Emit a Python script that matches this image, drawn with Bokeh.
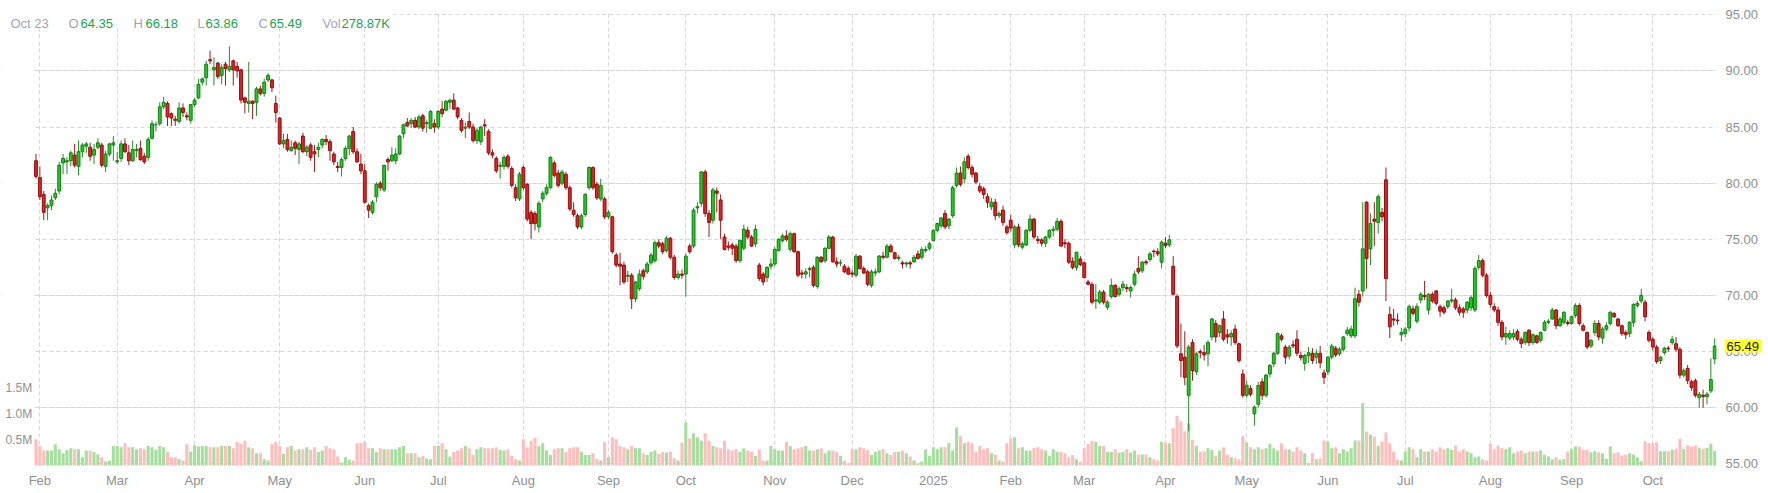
from bokeh.plotting import figure
from bokeh.models import (Range1d, FixedTicker, Grid, ColumnDataSource, Label, BoxAnnotation)
from bokeh.embed import file_html
from bokeh.resources import INLINE

# ---------------- data: (open, high, low, close) per trading day, grouped by month ----------------
ohlc_2024_01 = [(82.0, 82.6, 80.4, 80.6)]
ohlc_2024_02 = [
    (80.5, 81.5, 78.5, 78.8), (79.0, 79.3, 76.7, 77.4), (77.8, 78.2, 76.7, 78.0), (78.0, 78.9, 77.6, 78.5),
    (78.7, 79.5, 78.5, 79.1), (79.3, 81.9, 79.0, 81.6), (81.8, 82.6, 80.8, 82.2), (81.9, 82.3, 80.8, 82.0),
    (82.0, 82.9, 81.5, 82.7), (82.5, 83.5, 81.4, 81.6), (81.5, 83.8, 80.7, 82.8), (82.8, 83.6, 82.3, 83.4),
    (83.3, 83.7, 82.7, 83.5), (83.2, 83.6, 82.0, 82.4), (82.5, 83.5, 81.7, 83.0), (83.2, 84.0, 83.0, 83.6),
    (83.4, 83.6, 81.4, 81.6), (81.5, 82.9, 81.0, 82.6), (82.6, 83.6, 82.4, 83.5), (83.4, 84.2, 82.0, 83.6)]
ohlc_2024_03 = [
    (81.9, 82.8, 81.7, 82.0), (82.2, 83.8, 81.9, 83.5), (83.5, 84.0, 82.7, 82.8), (82.7, 83.4, 81.6, 82.0),
    (82.0, 83.8, 81.9, 83.0), (82.9, 83.5, 82.3, 83.0), (83.1, 83.8, 82.0, 82.1), (82.4, 82.7, 81.7, 81.9),
    (82.3, 84.1, 82.0, 83.9), (84.0, 85.6, 83.9, 85.3), (85.2, 85.5, 84.6, 85.2), (85.3, 87.2, 85.1, 86.8),
    (86.8, 87.7, 86.6, 87.2), (87.1, 87.3, 85.1, 85.9), (86.2, 86.3, 85.1, 85.8), (85.7, 86.0, 85.1, 85.6),
    (85.5, 87.2, 85.3, 86.7), (86.7, 87.1, 85.9, 86.3), (86.0, 86.3, 85.6, 85.9), (85.6, 87.0, 85.3, 87.0)]
ohlc_2024_04 = [
    (87.0, 87.6, 86.8, 87.4), (87.6, 89.3, 87.5, 88.8), (89.0, 89.4, 88.7, 89.3), (89.4, 90.9, 88.7, 90.6),
    (91.0, 91.8, 90.6, 90.9), (90.1, 91.2, 88.7, 90.3), (90.7, 90.8, 89.3, 89.5), (89.6, 90.6, 88.8, 90.3),
    (90.6, 90.8, 88.7, 90.2), (90.1, 92.2, 89.9, 90.4), (90.9, 91.0, 88.7, 90.1), (90.4, 90.8, 89.4, 90.0),
    (90.1, 90.2, 87.1, 87.4), (87.6, 87.7, 86.2, 87.2), (87.1, 90.8, 86.3, 87.3), (87.3, 87.4, 85.7, 87.1),
    (87.2, 88.6, 86.0, 88.4), (88.4, 88.7, 87.8, 88.0), (88.0, 89.3, 87.7, 89.0), (89.2, 89.8, 89.0, 89.6),
    (89.2, 89.3, 88.1, 88.5), (87.1, 87.8, 85.4, 86.3)]
ohlc_2024_05 = [
    (85.8, 85.9, 83.4, 83.5), (83.5, 84.4, 83.1, 83.8), (83.9, 84.4, 82.8, 83.0), (82.9, 83.8, 82.8, 83.2),
    (83.6, 83.8, 82.5, 83.1), (83.0, 83.7, 81.7, 83.5), (84.2, 84.5, 82.7, 82.8), (82.8, 83.4, 82.4, 83.2),
    (83.4, 83.6, 82.0, 82.3), (82.8, 83.4, 81.0, 82.6), (83.0, 83.6, 82.3, 83.2), (83.4, 84.0, 83.1, 83.9),
    (83.9, 84.3, 83.4, 83.7), (83.7, 83.9, 82.0, 82.9), (82.6, 82.8, 81.6, 81.9), (81.5, 81.9, 81.0, 81.4),
    (81.4, 82.3, 80.6, 82.1), (82.2, 83.3, 82.0, 83.1), (83.1, 84.3, 82.5, 84.2), (84.6, 85.0, 82.6, 82.8),
    (82.8, 83.1, 81.8, 81.9), (81.7, 82.6, 80.8, 81.1)]
ohlc_2024_06 = [
    (81.1, 81.7, 78.2, 78.3), (78.0, 78.2, 76.9, 77.6), (77.4, 78.5, 77.2, 78.3), (78.8, 80.1, 78.3, 79.9),
    (80.0, 80.2, 79.3, 79.6), (79.4, 81.6, 79.2, 81.6), (82.1, 82.3, 81.1, 81.9), (82.0, 83.2, 81.9, 82.5),
    (82.0, 83.1, 81.7, 82.6), (82.6, 84.3, 82.5, 84.2), (84.4, 85.3, 84.0, 85.2), (85.4, 85.8, 85.0, 85.1),
    (85.3, 85.8, 84.9, 85.6), (85.6, 85.9, 84.9, 85.0), (85.0, 86.1, 84.8, 85.9), (86.0, 86.2, 84.6, 84.9),
    (85.3, 85.6, 84.5, 85.4), (84.9, 86.5, 84.8, 86.4), (85.3, 85.7, 84.5, 85.0)]
ohlc_2024_07 = [
    (85.0, 86.5, 84.8, 86.4), (86.6, 87.3, 85.9, 86.2), (86.5, 87.4, 86.4, 87.3), (87.2, 87.5, 86.6, 87.4),
    (87.4, 88.0, 86.5, 86.6), (86.7, 86.8, 85.7, 85.9), (85.6, 85.8, 84.5, 84.7), (84.9, 85.4, 84.0, 85.0),
    (85.5, 86.3, 84.8, 85.0), (85.0, 85.3, 83.6, 83.8), (83.8, 84.9, 83.5, 84.7), (83.7, 85.1, 83.4, 85.0),
    (85.2, 85.7, 84.2, 85.1), (84.6, 84.8, 82.5, 82.7), (82.7, 83.0, 82.2, 82.5), (82.2, 82.4, 80.9, 81.1),
    (81.5, 81.9, 80.4, 81.6), (81.5, 82.5, 81.2, 82.3), (82.4, 82.6, 81.3, 81.5), (81.3, 81.5, 79.6, 79.8),
    (79.6, 79.9, 78.4, 78.7), (78.6, 81.0, 78.4, 80.8)]
ohlc_2024_08 = [
    (81.4, 81.6, 79.4, 79.6), (79.9, 80.0, 76.6, 76.8), (77.4, 77.6, 75.0, 76.4), (77.3, 77.5, 75.8, 76.4),
    (76.1, 78.4, 75.6, 78.2), (78.6, 79.3, 78.3, 79.1), (79.1, 79.9, 78.9, 79.6), (79.6, 82.4, 79.5, 82.3),
    (81.8, 82.0, 80.5, 80.7), (80.9, 81.2, 79.6, 79.8), (80.0, 81.2, 79.8, 81.0), (80.8, 81.0, 79.4, 79.6),
    (79.6, 79.8, 77.5, 77.7), (77.6, 78.3, 77.0, 77.2), (77.1, 77.3, 75.9, 76.1), (76.1, 77.3, 75.9, 77.1),
    (77.2, 79.1, 77.0, 79.0), (79.6, 81.5, 79.4, 81.4), (81.4, 81.5, 79.4, 79.6), (79.9, 80.1, 78.5, 78.7),
    (78.6, 80.4, 78.4, 79.8), (78.6, 78.8, 76.8, 77.0)]
ohlc_2024_09 = [
    (77.0, 77.6, 76.8, 77.4), (77.0, 77.1, 73.7, 73.9), (73.6, 73.8, 72.5, 72.7), (72.8, 73.8, 70.9, 72.6),
    (72.7, 73.0, 71.0, 71.2), (71.7, 72.2, 71.2, 71.8), (71.8, 72.0, 68.8, 69.7), (69.7, 71.3, 69.4, 71.2),
    (70.6, 72.3, 70.4, 71.9), (72.2, 72.4, 71.4, 71.7), (72.1, 73.0, 71.9, 72.8), (72.9, 73.8, 72.7, 73.6),
    (73.1, 74.9, 72.9, 74.7), (74.7, 75.0, 74.2, 74.4), (74.6, 74.8, 73.7, 73.9), (74.0, 75.3, 73.8, 75.1),
    (75.1, 75.2, 73.2, 73.4), (73.4, 73.6, 71.4, 71.6), (71.6, 72.2, 71.4, 71.9), (71.9, 72.3, 71.5, 71.8)]
ohlc_2024_10 = [
    (71.9, 73.7, 69.9, 73.5), (74.4, 74.6, 73.7, 73.9), (74.4, 77.8, 74.2, 77.6), (77.8, 78.3, 77.3, 77.9),
    (78.2, 81.1, 77.9, 81.0), (81.0, 81.2, 77.0, 77.3), (77.3, 77.6, 75.2, 76.5), (76.7, 79.6, 76.4, 79.4),
    (79.3, 79.6, 77.4, 79.1), (78.5, 79.0, 75.0, 76.7), (75.2, 75.5, 74.0, 74.1), (74.4, 74.8, 74.0, 74.3),
    (74.5, 74.7, 73.6, 74.2), (74.4, 74.6, 72.9, 73.1), (73.1, 75.0, 72.9, 74.9), (74.2, 76.3, 74.0, 75.9),
    (75.8, 76.1, 75.0, 75.2), (75.2, 75.4, 74.3, 74.4), (74.6, 76.3, 74.3, 75.9), (72.7, 72.9, 71.3, 71.5),
    (71.9, 72.1, 70.9, 71.2), (71.6, 72.6, 71.2, 72.5), (72.6, 73.3, 72.3, 72.8)]
ohlc_2024_11 = [
    (72.8, 74.3, 72.6, 74.1), (74.0, 75.1, 73.9, 75.0), (74.9, 75.5, 74.7, 75.3), (75.3, 75.8, 74.8, 75.0),
    (74.1, 75.7, 73.9, 75.5), (75.5, 75.6, 73.8, 73.9), (73.9, 74.0, 71.6, 71.8), (72.0, 72.3, 71.5, 71.9),
    (71.9, 72.4, 71.5, 72.1), (72.3, 72.6, 71.6, 72.4), (72.5, 72.7, 70.7, 70.9), (70.8, 73.5, 70.6, 73.4),
    (73.4, 73.5, 72.9, 73.0), (73.1, 74.3, 72.9, 74.2), (74.2, 75.4, 74.1, 75.2), (75.2, 75.3, 72.9, 73.0),
    (73.0, 73.4, 72.5, 72.8), (72.9, 73.2, 72.6, 72.9), (72.6, 72.8, 72.0, 72.1), (72.4, 72.6, 71.8, 71.9)]
ohlc_2024_12 = [
    (72.0, 72.3, 71.6, 71.9), (71.8, 73.7, 71.6, 73.5), (73.5, 73.6, 72.3, 72.4), (72.4, 72.6, 71.9, 72.0),
    (72.1, 72.3, 70.8, 71.0), (70.9, 72.3, 70.7, 72.1), (72.0, 72.4, 71.7, 72.1), (72.1, 73.6, 72.0, 73.5),
    (73.5, 73.9, 73.2, 73.4), (73.4, 74.6, 73.3, 74.4), (74.4, 74.6, 73.8, 73.9), (73.8, 73.9, 73.2, 73.3),
    (73.3, 73.6, 73.1, 73.4), (72.9, 73.1, 72.4, 72.8), (72.8, 73.0, 72.5, 72.9), (72.9, 73.1, 72.4, 72.8),
    (73.0, 73.6, 72.9, 73.4), (73.7, 74.0, 73.2, 73.3), (73.4, 74.3, 73.2, 74.1), (74.0, 74.4, 73.8, 74.1),
    (74.2, 74.8, 74.0, 74.6)]
ohlc_2025_01 = [
    (74.9, 75.9, 74.8, 75.8), (75.8, 76.5, 75.6, 76.4), (76.2, 77.0, 76.0, 76.9), (77.3, 77.6, 75.9, 76.1),
    (76.2, 76.9, 75.9, 76.8), (77.1, 79.8, 76.9, 79.6), (79.8, 81.4, 79.6, 80.9), (80.9, 81.5, 79.7, 79.9),
    (80.4, 82.3, 80.0, 81.9), (82.4, 82.6, 81.2, 81.4), (81.4, 81.6, 80.5, 80.8), (80.9, 81.0, 79.9, 80.1),
    (79.7, 80.0, 79.1, 79.3), (79.5, 79.7, 78.6, 79.0), (78.8, 79.1, 77.8, 78.3), (77.9, 78.7, 77.6, 78.3),
    (78.3, 78.6, 76.7, 77.1), (77.1, 77.5, 76.9, 77.3), (77.6, 78.0, 76.2, 76.5), (76.1, 76.3, 75.4, 75.6)]
ohlc_2025_02 = [
    (76.7, 77.2, 75.7, 76.0), (74.5, 76.3, 74.2, 76.1), (76.1, 76.4, 74.3, 74.5), (74.3, 74.8, 74.1, 74.6),
    (74.5, 75.9, 74.4, 75.8), (75.8, 77.2, 75.6, 76.8), (76.8, 76.9, 75.0, 75.2), (75.0, 75.3, 74.6, 74.9),
    (74.95, 75.1, 74.4, 74.65), (74.65, 75.3, 74.3, 75.2), (75.2, 75.9, 75.0, 75.8), (75.8, 76.2, 75.3, 75.9),
    (75.9, 76.9, 75.7, 76.6), (76.6, 76.8, 74.3, 74.4), (74.7, 75.0, 74.2, 74.6), (74.65, 74.8, 72.8, 72.96),
    (73.05, 73.4, 72.3, 72.5), (72.5, 73.9, 72.2, 73.85), (73.25, 73.5, 72.6, 72.75)]
ohlc_2025_03 = [
    (72.9, 73.0, 71.5, 71.6), (71.2, 71.4, 70.9, 71.0), (70.97, 71.2, 69.2, 69.4), (69.5, 71.0, 68.8, 69.6),
    (69.4, 70.5, 69.2, 70.3), (70.3, 70.5, 69.2, 69.4), (68.95, 69.6, 68.7, 69.4), (69.9, 71.5, 69.7, 70.9),
    (70.9, 71.0, 69.8, 69.9), (70.1, 70.8, 69.9, 70.6), (70.7, 71.3, 70.4, 71.0), (70.7, 71.0, 70.3, 70.6),
    (70.4, 70.9, 69.8, 70.7), (71.0, 72.2, 70.8, 71.9), (72.4, 73.5, 71.9, 72.1), (72.2, 73.1, 72.0, 72.96),
    (73.0, 73.2, 72.7, 72.9), (73.2, 73.9, 73.0, 73.7), (73.95, 74.1, 73.4, 73.9), (73.9, 74.2, 73.5, 73.7),
    (72.96, 74.9, 72.4, 74.75)]
ohlc_2025_04 = [
    (74.65, 75.2, 74.2, 74.45), (74.5, 75.4, 74.3, 74.95), (72.6, 73.5, 70.0, 70.1), (69.9, 70.1, 65.3, 65.5),
    (64.8, 67.5, 62.7, 64.2), (64.5, 66.8, 62.0, 62.7), (61.1, 65.6, 57.9, 65.4), (65.8, 66.1, 62.4, 63.3),
    (63.2, 65.0, 62.9, 64.8), (65.0, 65.2, 64.4, 64.9), (64.9, 65.6, 64.2, 64.7), (64.8, 66.0, 63.7, 65.8),
    (66.3, 68.0, 66.0, 67.9), (67.5, 67.8, 65.8, 66.3), (66.7, 67.4, 66.3, 67.3), (67.9, 68.6, 65.9, 66.1),
    (66.5, 67.0, 65.7, 66.3), (66.3, 66.9, 65.5, 66.6), (67.0, 67.4, 65.6, 65.8), (65.7, 65.8, 64.0, 64.2),
    (63.0, 63.4, 60.9, 61.1)]
ohlc_2025_05 = [
    (61.1, 62.4, 60.9, 62.0), (61.7, 62.0, 61.0, 61.2), (59.45, 60.2, 58.4, 60.05), (60.3, 62.3, 60.0, 61.975),
    (62.3, 62.6, 60.7, 61.1), (61.1, 63.0, 60.9, 62.9), (63.0, 63.9, 62.7, 63.75), (63.9, 65.0, 63.6, 64.85),
    (64.85, 66.7, 64.7, 66.6), (66.4, 66.6, 65.9, 66.1), (65.4, 65.6, 63.9, 64.5), (64.6, 65.6, 64.3, 65.4),
    (65.6, 66.0, 65.3, 65.5), (66.1, 66.9, 64.6, 64.85), (64.65, 65.0, 64.2, 64.45), (63.95, 64.8, 63.3, 64.65),
    (64.65, 65.4, 64.0, 64.9), (64.85, 65.3, 63.9, 64.2), (64.5, 65.2, 63.9, 64.85), (64.85, 65.5, 63.5, 64.0),
    (63.1, 63.4, 62.1, 62.7)]
ohlc_2025_06 = [
    (63.2, 64.6, 62.9, 64.5), (64.5, 65.7, 64.3, 65.5), (65.3, 65.5, 64.5, 64.7), (64.8, 65.4, 64.6, 65.2),
    (65.2, 66.4, 65.0, 66.3), (66.6, 67.2, 66.4, 66.9), (66.4, 67.3, 66.2, 67.0), (66.4, 70.7, 66.2, 69.7),
    (70.1, 70.5, 69.0, 69.4), (70.4, 78.3, 69.9, 74.15), (78.3, 78.4, 70.6, 73.3), (74.15, 77.3, 72.7, 76.4),
    (76.8, 78.3, 74.4, 76.6), (76.5, 79.0, 75.5, 78.8), (77.4, 77.8, 76.6, 77.0), (80.3, 81.4, 69.5, 71.5),
    (68.3, 69.0, 66.2, 67.2), (67.9, 68.8, 67.3, 67.8), (67.8, 68.4, 67.4, 67.75), (66.5, 67.1, 65.9, 66.7)]
ohlc_2025_07 = [
    (66.6, 67.2, 66.3, 67.0), (67.1, 69.2, 66.8, 69.0), (68.8, 69.1, 68.2, 68.4), (67.7, 69.3, 67.5, 69.0),
    (69.6, 70.3, 69.3, 70.1), (70.0, 71.3, 69.6, 69.9), (68.7, 70.2, 68.3, 70.1), (70.1, 70.3, 69.3, 69.5),
    (70.4, 70.5, 69.1, 69.3), (69.0, 69.2, 68.1, 68.6), (68.9, 69.1, 68.3, 68.5), (69.0, 69.6, 68.8, 69.5),
    (69.5, 70.6, 69.3, 69.6), (69.6, 69.8, 68.7, 68.9), (68.9, 69.2, 68.2, 68.5), (68.8, 69.0, 68.0, 68.5),
    (68.7, 69.5, 68.4, 69.4), (68.9, 70.0, 68.6, 69.8), (68.7, 72.6, 68.5, 72.4), (72.5, 73.6, 72.3, 73.1),
    (73.1, 73.3, 71.6, 71.8), (71.8, 72.0, 69.8, 70.0)]
ohlc_2025_08 = [
    (70.0, 70.3, 68.9, 69.2), (69.0, 69.3, 68.5, 68.7), (68.7, 69.0, 67.3, 67.6), (67.6, 67.8, 66.0, 66.3),
    (66.3, 67.2, 65.6, 66.6), (66.2, 66.9, 66.0, 66.6), (66.3, 67.0, 66.0, 66.6), (66.8, 67.0, 65.9, 66.1),
    (66.1, 66.3, 65.3, 65.7), (65.8, 66.8, 65.6, 66.7), (66.9, 67.0, 65.5, 65.8), (65.8, 66.6, 65.6, 66.5),
    (66.4, 66.5, 65.7, 65.8), (66.0, 66.8, 65.8, 66.7), (66.9, 67.8, 66.8, 67.6), (67.6, 67.9, 67.4, 67.7),
    (67.9, 68.9, 67.8, 68.7), (68.7, 68.8, 67.0, 67.3), (67.3, 68.1, 67.2, 67.9), (67.6, 68.6, 67.4, 68.5),
    (67.6, 67.8, 67.3, 67.5)]
ohlc_2025_09 = [
    (67.5, 68.2, 67.4, 68.1), (68.2, 69.3, 68.0, 69.1), (69.1, 69.3, 67.3, 67.5), (67.3, 67.5, 66.8, 66.9),
    (66.7, 66.8, 65.2, 65.4), (65.5, 66.1, 65.3, 66.0), (66.7, 67.8, 66.4, 67.5), (67.5, 67.8, 66.0, 66.3),
    (66.2, 67.2, 65.7, 67.0), (67.0, 67.6, 66.8, 67.3), (67.5, 68.6, 67.3, 68.5), (68.4, 68.5, 68.0, 68.1),
    (67.9, 68.0, 67.2, 67.3), (67.3, 67.4, 66.4, 66.6), (66.7, 66.9, 66.1, 66.5), (66.6, 67.7, 66.3, 67.6),
    (67.6, 69.3, 67.2, 69.2), (69.1, 69.5, 68.9, 69.3), (69.5, 70.6, 69.3, 70.0), (69.4, 69.6, 67.7, 68.1),
    (66.7, 66.9, 65.8, 66.0)]
ohlc_2025_10 = [
    (66.1, 66.3, 65.1, 65.4), (65.4, 65.6, 63.9, 64.1), (64.2, 64.6, 63.9, 64.5), (64.9, 65.4, 64.7, 65.3),
    (65.3, 65.5, 65.0, 65.25), (65.8, 66.4, 65.6, 66.1), (65.7, 66.3, 65.0, 65.2), (65.2, 65.4, 62.6, 62.9),
    (62.9, 63.5, 62.7, 63.3), (63.5, 63.8, 62.1, 62.4), (62.3, 62.5, 61.5, 61.8), (62.4, 62.6, 60.9, 61.1),
    (60.9, 61.4, 60.0, 61.2), (61.1, 61.6, 60.0, 61.0), (61.0, 61.4, 60.3, 61.2), (61.5, 64.4, 61.3, 62.5),
    (64.35, 66.18, 63.86, 65.49)]

# ---------------- volume per trading day, thousands of shares ----------------
vol_2024_01 = [503]
vol_2024_02 = [376, 287, 287, 287, 408, 312, 236, 299, 331, 312, 312, 159, 287, 287, 261, 210, 159, 76, 96, 376]
vol_2024_03 = [376, 350, 427, 350, 350, 312, 331, 312, 376, 350, 299, 376, 350, 261, 159, 159, 121, 96, 408, 268]
vol_2024_04 = [389, 363, 376, 376, 350, 350, 350, 376, 376, 376, 331, 452, 414, 478, 350, 331, 236, 236, 121, 96, 414, 452]
vol_2024_05 = [376, 223, 350, 376, 287, 312, 312, 350, 299, 350, 261, 287, 376, 331, 312, 172, 57, 159, 108, 96, 427, 439]
vol_2024_06 = [452, 331, 331, 261, 331, 312, 312, 312, 312, 350, 376, 236, 236, 236, 159, 185, 134, 121, 376]
vol_2024_07 = [376, 427, 312, 172, 261, 287, 331, 376, 331, 204, 312, 350, 331, 331, 331, 350, 299, 287, 312, 185, 121, 96]
vol_2024_08 = [503, 350, 478, 529, 376, 427, 287, 204, 312, 331, 331, 261, 331, 350, 350, 267, 204, 204, 236, 121, 96, 452]
vol_2024_09 = [159, 541, 503, 376, 350, 312, 376, 331, 331, 236, 204, 261, 287, 223, 261, 248, 261, 140, 96, 439]
vol_2024_10 = [834, 522, 618, 541, 478, 618, 478, 376, 350, 331, 478, 312, 287, 312, 261, 331, 287, 261, 185, 312, 96, 96, 376]
vol_2024_11 = [312, 287, 287, 452, 376, 312, 331, 350, 376, 287, 287, 312, 331, 236, 287, 287, 261, 185, 96, 45]
vol_2024_12 = [312, 312, 350, 331, 299, 204, 261, 287, 312, 236, 204, 261, 261, 287, 236, 172, 96, 45, 76, 312, 185]
vol_2025_01 = [350, 312, 350, 350, 427, 287, 732, 567, 427, 452, 427, 261, 376, 312, 331, 236, 210, 96, 76, 427]
vol_2025_02 = [522, 541, 331, 350, 287, 287, 331, 350, 312, 287, 185, 312, 261, 261, 236, 159, 204, 121, 76]
vol_2025_03 = [331, 414, 478, 452, 376, 376, 261, 261, 312, 248, 261, 312, 248, 287, 210, 210, 210, 159, 121, 96, 452]
vol_2025_04 = [439, 427, 718, 955, 846, 654, 814, 494, 378, 269, 269, 333, 301, 186, 288, 353, 205, 160, 141, 122, 571]
vol_2025_05 = [442, 353, 314, 350, 314, 333, 417, 333, 288, 429, 314, 314, 269, 353, 288, 237, 45, 237, 122, 141, 481]
vol_2025_06 = [462, 333, 353, 237, 314, 269, 333, 481, 481, 1199, 654, 590, 558, 378, 462, 635, 429, 269, 109, 96]
vol_2025_07 = [269, 353, 314, 160, 314, 269, 269, 314, 269, 353, 314, 333, 301, 378, 269, 314, 269, 237, 160, 173, 122, 96]
vol_2025_08 = [417, 314, 378, 333, 314, 353, 237, 269, 288, 237, 269, 269, 269, 288, 205, 173, 122, 160, 109, 122, 269]
vol_2025_09 = [320, 365, 365, 301, 301, 256, 276, 256, 237, 128, 365, 237, 256, 192, 211, 237, 211, 160, 83, 468, 429]
vol_2025_10 = [429, 449, 276, 276, 276, 301, 320, 513, 320, 385, 365, 385, 340, 320, 340, 417, 278.87]

# month tick labels (first trading day of each month)
month_labels = ["", "Feb", "Mar", "Apr", "May", "Jun", "Jul", "Aug", "Sep", "Oct", "Nov", "Dec",
                "2025", "Feb", "Mar", "Apr", "May", "Jun", "Jul", "Aug", "Sep", "Oct"]
price_ticks = [55, 60, 65, 70, 75, 80, 85, 90, 95]
vol_ticks = [500000, 1000000, 1500000]
vol_tick_labels = ["0.5M", "1.0M", "1.5M"]
last_date = "Oct 23"

months_ohlc = [ohlc_2024_01, ohlc_2024_02, ohlc_2024_03, ohlc_2024_04, ohlc_2024_05, ohlc_2024_06,
               ohlc_2024_07, ohlc_2024_08, ohlc_2024_09, ohlc_2024_10, ohlc_2024_11, ohlc_2024_12,
               ohlc_2025_01, ohlc_2025_02, ohlc_2025_03, ohlc_2025_04, ohlc_2025_05, ohlc_2025_06,
               ohlc_2025_07, ohlc_2025_08, ohlc_2025_09, ohlc_2025_10]
months_vol = [vol_2024_01, vol_2024_02, vol_2024_03, vol_2024_04, vol_2024_05, vol_2024_06,
              vol_2024_07, vol_2024_08, vol_2024_09, vol_2024_10, vol_2024_11, vol_2024_12,
              vol_2025_01, vol_2025_02, vol_2025_03, vol_2025_04, vol_2025_05, vol_2025_06,
              vol_2025_07, vol_2025_08, vol_2025_09, vol_2025_10]

# ---------------- build sources ----------------
UP_FILL, UP_LINE, UP_WICK = "#24c924", "#137d13", "#2a8a2a"
DN_FILL, DN_LINE, DN_WICK = "#e32121", "#8e1010", "#8e2020"
VOL_UP, VOL_DN = "#a7dd9f", "#ffbebe"

cx, ch, cl, top, bot, fill, line, wick = [], [], [], [], [], [], [], []
vx, vv, vcol = [], [], []
ticks, tick_over = [], {}
idx = 0
for label, rows, vols in zip(month_labels, months_ohlc, months_vol):
    start = idx
    if label:
        ticks.append(start)
        tick_over[start] = label
    ups = []
    for k, (o, h, l, c) in enumerate(rows):
        up = c >= o
        ups.append(up)
        cx.append(start + k)
        ch.append(max(h, o, c)); cl.append(min(l, o, c))
        top.append(max(o, c)); bot.append(min(o, c))
        fill.append(UP_FILL if up else DN_FILL)
        line.append(UP_LINE if up else DN_LINE)
        wick.append(UP_WICK if up else DN_WICK)
    for k, v in enumerate(vols):
        vx.append(start + k)
        vv.append(v * 1000)
        vcol.append(VOL_UP if ups[min(k, len(ups) - 1)] else VOL_DN)
    idx += len(rows)

csrc = ColumnDataSource(dict(x=cx, high=ch, low=cl, top=top, bottom=bot, fill=fill, line=line, wick=wick))
vsrc = ColumnDataSource(dict(x=vx, v=vv, color=vcol))

# ---------------- figure (page has no body margin: figure pixels = screenshot pixels) ----------------
W, H = 1768, 493
PLOT_L, PLOT_R, PLOT_T, PLOT_B = 33.5, 1716, 13.3, 466   # price area (grid lines live inside)
FRAME_B = 472                  # drawing frame reaches a little lower so the 55.00 label is whole
X0, DX = 35.5, 3.868           # pixel position of the first candle and candle spacing
P95_Y, PPU = 14.3, 11.225      # pixel row of the 95.00 line and pixels per price unit
VOL_BASE, PX_PER_M = 465.0, 52.0


def px_to_x(px):
    return (px - X0) / DX


def py_to_price(py):
    return 95 - (py - P95_Y) / PPU


FONT = "Liberation Sans"
AXIS_GRAY = "#8f8f8f"
p = figure(width=W, height=H, output_backend="svg", toolbar_location=None,
           x_range=Range1d(px_to_x(0), px_to_x(W)),
           y_range=Range1d(py_to_price(FRAME_B), py_to_price(0)),
           y_axis_location=None,
           min_border_left=0, min_border_right=0, min_border_top=0,
           min_border_bottom=H - FRAME_B)
p.outline_line_color = None
p.background_fill_color = "white"
p.border_fill_color = "white"
p.extra_y_ranges = {"vol": Range1d(-(FRAME_B - VOL_BASE) / PX_PER_M * 1e6, VOL_BASE / PX_PER_M * 1e6)}

# grids
p.xgrid.ticker = FixedTicker(ticks=ticks)
p.xgrid.grid_line_color = "#d6d6d6"
p.xgrid.grid_line_dash = "4 3"
p.add_layout(Grid(dimension=1, ticker=FixedTicker(ticks=price_ticks),
                  grid_line_color="#d6d6d6", grid_line_dash="4 3"))

# month axis (below)
xa = p.xaxis[0]
xa.ticker = FixedTicker(ticks=ticks)
xa.major_label_overrides = tick_over
xa.axis_line_color = None
xa.major_tick_line_color = None
xa.minor_tick_line_color = None
xa.major_tick_out = 0
xa.major_tick_in = 0
xa.major_label_standoff = 0
xa.major_label_text_color = AXIS_GRAY
xa.major_label_text_font = FONT
xa.major_label_text_font_size = "13px"

# volume bars
p.vbar(x="x", top="v", bottom=0, width=0.8, fill_color="color", line_color=None,
       source=vsrc, y_range_name="vol")

# candles
p.segment(x0="x", y0="low", x1="x", y1="high", line_color="wick", line_width=1, source=csrc)
p.vbar(x="x", top="top", bottom="bottom", width=0.74, fill_color="fill", line_color="line",
       line_width=1, source=csrc)

# white margins around the price area (scales live there) and panel behind the legend
WHITE = dict(fill_color="white", fill_alpha=1.0, line_color=None)
p.add_layout(BoxAnnotation(right=px_to_x(PLOT_L), **WHITE))
p.add_layout(BoxAnnotation(left=px_to_x(PLOT_R), **WHITE))
p.add_layout(BoxAnnotation(bottom=py_to_price(PLOT_T), **WHITE))
p.add_layout(BoxAnnotation(top=py_to_price(PLOT_B), **WHITE))
p.add_layout(BoxAnnotation(right=px_to_x(393), bottom=py_to_price(28), **WHITE))

# price scale labels (right)
for t in price_ticks:
    p.add_layout(Label(x=px_to_x(1725), y=t, text=f"{t:.2f}", text_color=AXIS_GRAY,
                       text_font=FONT, text_font_size="13px", text_baseline="middle",
                       text_align="left"))

# volume scale labels (left)
for t, s in zip(vol_ticks, vol_tick_labels):
    p.add_layout(Label(x=px_to_x(5), y=t, y_range_name="vol", text=s,
                       text_color=AXIS_GRAY, text_font=FONT, text_font_size="12px",
                       text_baseline="middle", text_align="left"))

# OHLC legend text
GRAY, GREEN = "#a2a7b3", "#16a64a"
o_l, h_l, l_l, c_l = ohlc_2025_10[-1]
v_l = vol_2025_10[-1]
items = [(10, last_date, GRAY), (68, "O", GRAY), (80, f"{o_l:.2f}", GREEN),
         (133, "H", GRAY), (145, f"{h_l:.2f}", GREEN), (197, "L", GRAY), (205, f"{l_l:.2f}", GREEN),
         (258, "C", GRAY), (269, f"{c_l:.2f}", GREEN), (322, "Vol", GRAY), (341, f"{v_l:.2f}K", GREEN)]
for fx, txt, col in items:
    p.add_layout(Label(x=px_to_x(fx), y=py_to_price(22.5), text=txt, text_color=col,
                       text_font=FONT, text_font_size="13px",
                       text_baseline="middle", text_align="left"))

# last price marker on the price scale
p.add_layout(Label(x=px_to_x(1724), y=c_l, text=f"{c_l:.2f}", text_color="#1a1a1a",
                   text_font=FONT, text_font_size="13px", text_baseline="middle", text_align="left",
                   background_fill_color="#ffff2a", background_fill_alpha=1.0, padding=2))

open("out.html", "w").write(file_html(p, INLINE))
